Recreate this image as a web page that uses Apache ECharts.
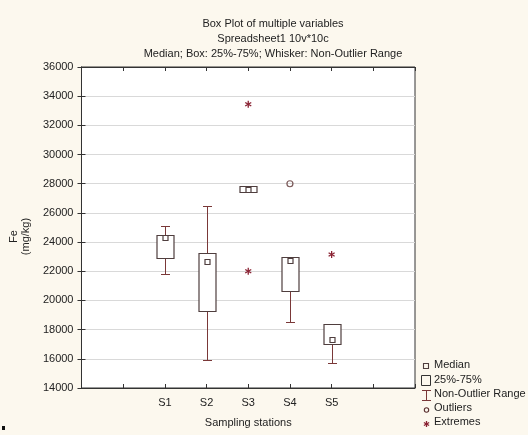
<!DOCTYPE html>
<html>
<head>
<meta charset="utf-8">
<script src="https://cdn.jsdelivr.net/npm/echarts@6/dist/echarts.min.js"></script>
<style>
html,body{margin:0;padding:0;background:#fcf8ee;}
#chart{width:528px;height:435px;}
</style>
</head>
<body>
<div id="chart"></div>
<script>
// ---- data ----
var categories = ['S1', 'S2', 'S3', 'S4', 'S5'];
var whiskerLow  = [21800, 15900, 27450, 18500, 15700];
var q1          = [22900, 19300, 27450, 20650, 17000];
var medians     = [24250, 22650, 27550, 22700, 17300];
var q3          = [24500, 23250, 27850, 23000, 18400];
var whiskerHigh = [25100, 26500, 27850, 23000, 18400];
var outlierStation = ['S4'];
var outlierValue   = [28000];
var extremeStation = ['S3', 'S3', 'S5'];
var extremeValue   = [33450, 22000, 23150];
var yTicks = [14000, 16000, 18000, 20000, 22000, 24000, 26000, 28000, 30000, 32000, 34000, 36000];

// categories sit at slots 2..6 on an axis running 0..8
var OFFSET = 2;
function pos(name) { return categories.indexOf(name) + OFFSET; }

var boxData = categories.map(function (c, i) {
  return [pos(c), whiskerLow[i], q1[i], medians[i], q3[i], whiskerHigh[i]];
});
var outlierData = outlierStation.map(function (s, i) { return [pos(s), outlierValue[i]]; });
var extremeData = extremeStation.map(function (s, i) { return [pos(s), extremeValue[i]]; });

var BOX = '#4f3e3e';
var WHISK = '#7a3838';
var EXT = '#8a2233';
var FONT = 'Liberation Sans, Arial, sans-serif';

function crisp(v) { return Math.round(v) + 0.5; }

function renderBox(params, api) {
  var x = api.value(0);
  var pl = api.coord([x, api.value(1)]);
  var p1 = api.coord([x, api.value(2)]);
  var pm = api.coord([x, api.value(3)]);
  var p3 = api.coord([x, api.value(4)]);
  var ph = api.coord([x, api.value(5)]);
  var cx = crisp(pl[0]);
  var hw = 8.5, cw = 4.5, ms = 5;
  var ch = [];
  var wStyle = { stroke: WHISK, lineWidth: 1, fill: null };
  ch.push({ type: 'line', shape: { x1: cx, y1: crisp(ph[1]), x2: cx, y2: crisp(p3[1]) }, style: wStyle });
  ch.push({ type: 'line', shape: { x1: cx - cw, y1: crisp(ph[1]), x2: cx + cw, y2: crisp(ph[1]) }, style: wStyle });
  ch.push({ type: 'line', shape: { x1: cx, y1: crisp(p1[1]), x2: cx, y2: crisp(pl[1]) }, style: wStyle });
  ch.push({ type: 'line', shape: { x1: cx - cw, y1: crisp(pl[1]), x2: cx + cw, y2: crisp(pl[1]) }, style: wStyle });
  var top = crisp(p3[1]), bot = crisp(p1[1]);
  ch.push({ type: 'rect', shape: { x: cx - hw, y: top, width: hw * 2, height: Math.max(bot - top, 1) },
            style: { stroke: BOX, lineWidth: 1.2, fill: '#ffffff' } });
  var my = Math.round(pm[1]);
  ch.push({ type: 'rect', shape: { x: cx - 2.5, y: my - 2.5, width: ms, height: ms },
            style: { stroke: BOX, lineWidth: 1.2, fill: '#ffffff' } });
  return { type: 'group', children: ch };
}

function asterisk(cx, cy, r, color) {
  var a = r * Math.cos(Math.PI / 6), b = r * Math.sin(Math.PI / 6);
  var st = { stroke: color, lineWidth: 1.3 };
  return [
    { type: 'line', shape: { x1: cx, y1: cy - r, x2: cx, y2: cy + r }, style: st },
    { type: 'line', shape: { x1: cx - a, y1: cy - b, x2: cx + a, y2: cy + b }, style: st },
    { type: 'line', shape: { x1: cx - a, y1: cy + b, x2: cx + a, y2: cy - b }, style: st }
  ];
}

function renderExtreme(params, api) {
  var p = api.coord([api.value(0), api.value(1)]);
  return { type: 'group', children: asterisk(p[0], p[1], 3.5, EXT) };
}

// legend graphics
var LX = 426, TX = 434;
var rows = [366, 381, 395, 409, 423];
var labels = ['Median', '25%-75%', 'Non-Outlier Range', 'Outliers', 'Extremes'];
var legendEls = [];
labels.forEach(function (t, i) {
  legendEls.push({ type: 'text', left: TX, top: rows[i] - 7,
    style: { text: t, fill: '#222', font: '11px ' + FONT } });
});
legendEls.push({ type: 'rect', shape: { x: LX - 2.5, y: rows[0] - 2.5, width: 5, height: 5 },
  style: { stroke: BOX, lineWidth: 1.1, fill: 'transparent' } });
legendEls.push({ type: 'rect', shape: { x: LX - 4.5, y: rows[1] - 5.5, width: 9, height: 10 },
  style: { stroke: '#333', lineWidth: 1, fill: 'transparent' } });
legendEls.push({ type: 'group', children: [
  { type: 'line', shape: { x1: LX + 0.5, y1: rows[2] - 5, x2: LX + 0.5, y2: rows[2] + 5 }, style: { stroke: WHISK, lineWidth: 1 } },
  { type: 'line', shape: { x1: LX - 4, y1: rows[2] - 4.5, x2: LX + 5, y2: rows[2] - 4.5 }, style: { stroke: WHISK, lineWidth: 1 } },
  { type: 'line', shape: { x1: LX - 4, y1: rows[2] + 5.5, x2: LX + 5, y2: rows[2] + 5.5 }, style: { stroke: WHISK, lineWidth: 1 } }
]});
legendEls.push({ type: 'circle', shape: { cx: LX + 0.5, cy: rows[3] + 1, r: 2.2 },
  style: { stroke: '#5a3030', lineWidth: 1.1, fill: 'transparent' } });
legendEls.push({ type: 'group', children: asterisk(LX + 0.5, rows[4] + 1, 3, EXT) });
legendEls.push({ type: 'rect', shape: { x: 2, y: 426, width: 3, height: 4 }, style: { fill: '#111' } });

var axisLabelMap = {};
categories.forEach(function (c) { axisLabelMap[pos(c)] = c; });

var chart = echarts.init(document.getElementById('chart'), null, { renderer: 'canvas' });
chart.setOption({
  backgroundColor: '#fcf8ee',
  animation: false,
  title: {
    text: 'Box Plot of multiple variables\nSpreadsheet1 10v*10c\nMedian; Box: 25%-75%; Whisker: Non-Outlier Range',
    left: 268, top: 11, textAlign: 'center',
    textStyle: { fontSize: 11, fontWeight: 'normal', color: '#222', lineHeight: 15, fontFamily: FONT }
  },
  grid: { left: 81, right: 113, top: 67, bottom: 47, show: true, backgroundColor: '#ffffff', borderColor: '#333', borderWidth: 1 },
  xAxis: [{
    type: 'value', min: 0, max: 8, interval: 1,
    name: 'Sampling stations', nameLocation: 'middle', nameGap: 29,
    nameTextStyle: { fontSize: 11, color: '#222', fontFamily: FONT },
    axisLine: { show: true, lineStyle: { color: '#333' } },
    axisTick: { show: true, inside: true, length: 4, lineStyle: { color: '#333' } },
    axisLabel: { fontSize: 11, color: '#222', margin: 9, fontFamily: FONT,
      formatter: function (v) { return axisLabelMap[v] || ''; } },
    splitLine: { show: false }
  }, {
    type: 'value', min: 0, max: 8, interval: 1, position: 'top',
    axisLine: { show: true, lineStyle: { color: '#333' } },
    axisTick: { show: true, inside: true, length: 4, lineStyle: { color: '#333' } },
    axisLabel: { show: false }, splitLine: { show: false }
  }],
  yAxis: [{
    type: 'value', min: yTicks[0], max: yTicks[yTicks.length - 1], interval: yTicks[1] - yTicks[0],
    name: 'Fe\n(mg/kg)', nameLocation: 'middle', nameGap: 44, nameRotate: 90,
    nameTextStyle: { fontSize: 11, color: '#222', lineHeight: 12, fontFamily: FONT, padding: [0, 18, 0, 0] },
    axisLine: { show: true, lineStyle: { color: '#333' } },
    axisTick: { show: true, inside: true, length: 4, lineStyle: { color: '#333' } },
    axisLabel: { fontSize: 11, color: '#222', margin: 8, fontFamily: FONT,
      formatter: function (v) { return String(v); } },
    splitLine: { show: true, lineStyle: { color: '#d9d9d9', width: 1 } }
  }, {
    type: 'value', min: yTicks[0], max: yTicks[yTicks.length - 1], interval: yTicks[1] - yTicks[0], position: 'right',
    axisLine: { show: true, lineStyle: { color: '#333' } },
    axisTick: { show: true, inside: true, length: 4, lineStyle: { color: '#333' } },
    axisLabel: { show: false }, splitLine: { show: false }
  }],
  series: [{
    type: 'custom', name: 'box', renderItem: renderBox, data: boxData,
    encode: { x: 0, y: [1, 2, 3, 4, 5] }, z: 3
  }, {
    type: 'scatter', name: 'Outliers', data: outlierData, symbol: 'circle', symbolSize: 6,
    itemStyle: { color: 'transparent', borderColor: '#5a3030', borderWidth: 1.2 }, z: 4
  }, {
    type: 'custom', name: 'Extremes', renderItem: renderExtreme, data: extremeData,
    encode: { x: 0, y: 1 }, z: 4
  }],
  graphic: legendEls
});
</script>
</body>
</html>
